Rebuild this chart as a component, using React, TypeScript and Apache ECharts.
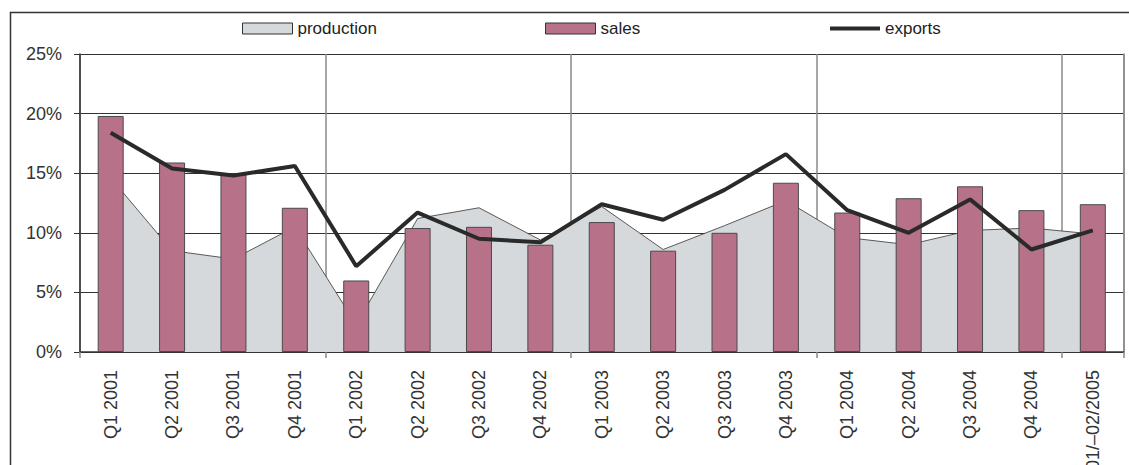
import React, { useEffect, useRef } from "react";
import * as echarts from "echarts";

const categories = [
  "Q1 2001", "Q2 2001", "Q3 2001", "Q4 2001",
  "Q1 2002", "Q2 2002", "Q3 2002", "Q4 2002",
  "Q1 2003", "Q2 2003", "Q3 2003", "Q4 2003",
  "Q1 2004", "Q2 2004", "Q3 2004", "Q4 2004",
  "01/–02/2005",
];
const production = [14.6, 8.5, 7.8, 10.5, 2.3, 11.2, 12.1, 9.4, 12.2, 8.6, 10.6, 12.7, 9.6, 9.0, 10.2, 10.4, 9.9];
const sales = [19.8, 15.9, 15.0, 12.1, 6.0, 10.4, 10.5, 9.0, 10.9, 8.5, 10.0, 14.2, 11.7, 12.9, 13.9, 11.9, 12.4];
const exportsData = [18.4, 15.4, 14.8, 15.6, 7.2, 11.7, 9.5, 9.2, 12.4, 11.1, 13.6, 16.6, 11.9, 10.0, 12.8, 8.6, 10.2];

const FONT = '"Liberation Sans", Arial, sans-serif';

export default function App() {
  const ref = useRef<HTMLDivElement>(null);
  useEffect(() => {
    const chart = echarts.init(ref.current!, null, { renderer: "svg" });
    const legendText = { fontSize: 17, color: "#222", fontFamily: FONT };
    chart.setOption({
      animation: false,
      backgroundColor: "#fff",
      textStyle: { fontFamily: FONT },
      graphic: [
        {
          type: "rect",
          silent: true,
          z: -10,
          shape: { x: 10.5, y: 12.5, width: 1200, height: 600 },
          style: { fill: "none", stroke: "#333", lineWidth: 1.5 },
        },
      ],
      legend: [
        {
          left: 237, top: 15, itemWidth: 50, itemHeight: 11, itemGap: 4,
          textStyle: legendText,
          data: [{ name: "production", icon: "rect", itemStyle: { color: "#d5d9dc", borderColor: "#333", borderWidth: 1 } }],
        },
        {
          left: 540, top: 15, itemWidth: 50, itemHeight: 11, itemGap: 4,
          textStyle: legendText,
          data: [{ name: "sales", icon: "rect", itemStyle: { color: "#b77289", borderColor: "#333", borderWidth: 1 } }],
        },
        {
          left: 825, top: 15, itemWidth: 50, itemHeight: 4, itemGap: 4,
          textStyle: legendText,
          data: [{ name: "exports", icon: "rect", itemStyle: { color: "#2a2a2a", borderWidth: 0 } }],
        },
      ],
      grid: { left: 80, top: 54, right: 5.5, bottom: 113, containLabel: false, outerBoundsMode: "none" },
      xAxis: {
        type: "category",
        data: categories,
        boundaryGap: true,
        axisLine: { show: true, lineStyle: { color: "#333", width: 1.5 } },
        axisTick: { show: true, interval: 3, length: 6, lineStyle: { color: "#888", width: 1.5 } },
        splitLine: { show: true, interval: 3, lineStyle: { color: "#8a8a8a", width: 1.5 } },
        axisLabel: { rotate: 90, interval: 0, fontSize: 18, color: "#333", margin: 18, fontFamily: FONT },
      },
      yAxis: [
        {
          type: "value",
          min: 0,
          max: 25,
          interval: 5,
          axisLine: { show: true, lineStyle: { color: "#333", width: 1.5 } },
          axisTick: { show: true, length: 6, lineStyle: { color: "#333" } },
          splitLine: { show: true, lineStyle: { color: "#333", width: 1.2 } },
          axisLabel: { formatter: "{value}%", fontSize: 18, color: "#333", margin: 18, fontFamily: FONT },
        },
        {
          type: "value",
          position: "right",
          min: 0,
          max: 25,
          interval: 5,
          axisLine: { show: true, lineStyle: { color: "#8a8a8a", width: 1.5 } },
          axisTick: { show: false },
          splitLine: { show: false },
          axisLabel: { show: false },
        },
      ],
      series: [
        {
          name: "production",
          type: "line",
          data: production,
          symbol: "none",
          z: 1,
          lineStyle: { color: "#333", width: 0.8 },
          itemStyle: { color: "#d5d9dc" },
          areaStyle: { color: "#d5d9dc", opacity: 1 },
        },
        {
          name: "sales",
          type: "bar",
          data: sales,
          barWidth: 26,
          z: 2,
          itemStyle: { color: "#b77289", borderColor: "#4a4a4a", borderWidth: 1 },
        },
        {
          name: "exports",
          type: "line",
          data: exportsData,
          symbol: "none",
          z: 3,
          lineStyle: { color: "#2a2a2a", width: 4 },
          itemStyle: { color: "#2a2a2a" },
        },
      ],
    });
    return () => chart.dispose();
  }, []);
  return (
    <div
      ref={ref}
      style={{ position: "fixed", left: 0, top: 0, width: 1129, height: 465 }}
    />
  );
}
